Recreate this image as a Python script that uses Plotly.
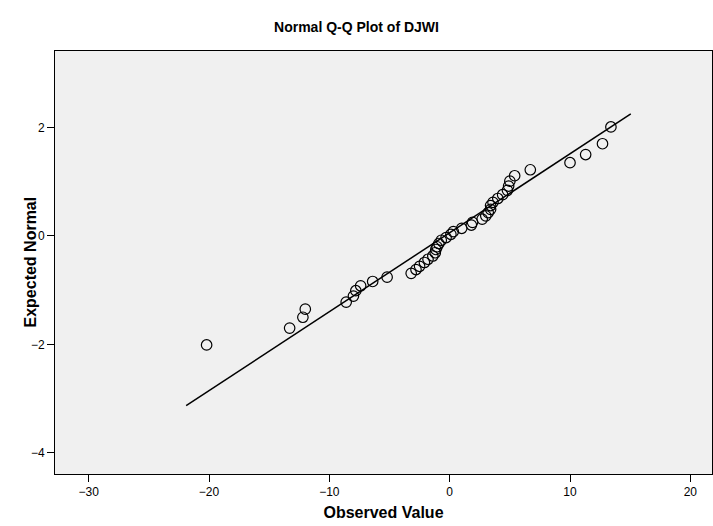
import plotly.graph_objects as go

observed = [-20.2, -13.3, -12.2, -12.0, -8.6, -8.0, -7.8, -7.4, -6.4, -5.2,
            -3.2, -2.8, -2.5, -2.1, -1.8, -1.4, -1.2, -1.15, -1.05, -0.9,
            -0.7, -0.3, 0.1, 0.3, 1.0, 1.8, 1.9, 2.7, 3.0, 3.2,
            3.4, 3.4, 3.6, 4.0, 4.4, 4.8, 4.9, 5.0, 5.4, 6.7,
            10.0, 11.3, 12.7, 13.4]
# Expected normal values
expected = [-2.01, -1.70, -1.50, -1.35, -1.22, -1.11, -1.01, -0.92, -0.84, -0.76,
            -0.69, -0.62, -0.56, -0.49, -0.43, -0.37, -0.31, -0.25, -0.20, -0.14,
            -0.08, -0.03, 0.03, 0.08, 0.14, 0.20, 0.25, 0.31, 0.37, 0.43,
            0.49, 0.56, 0.62, 0.69, 0.76, 0.84, 0.92, 1.01, 1.11, 1.22,
            1.35, 1.50, 1.70, 2.01]
# Reference line endpoints
line_x = [-21.9, 15.05]
line_y = [-3.13, 2.25]

x_ticks = [-30, -20, -10, 0, 10, 20]
y_ticks = [-4, -2, 0, 2]

fig = go.Figure()
fig.add_trace(go.Scatter(x=line_x, y=line_y, mode="lines",
                         line=dict(color="black", width=1.5), hoverinfo="skip"))
fig.add_trace(go.Scatter(x=observed, y=expected, mode="markers",
                         marker=dict(symbol="circle-open", size=10.5,
                                     color="black", line=dict(width=1.2))))

font = "Liberation Sans, Arial, sans-serif"
W, H = 713, 526
L, R, T, B = 55, 1, 51, 52
fig.update_layout(
    width=W, height=H,
    margin=dict(l=L, r=R, t=T, b=B),
    paper_bgcolor="white", plot_bgcolor="#f0f0f0",
    showlegend=False,
    font=dict(family=font, size=12, color="black"),
    title=dict(text="<b>Normal Q-Q Plot of DJWI</b>", x=0.5, xanchor="center",
               y=1 - 27 / H, yanchor="middle", font=dict(size=14, family=font)),
    annotations=[dict(text="<b>Expected Normal</b>", textangle=-90,
                      xref="paper", yref="paper",
                      x=(30 - L) / (W - L - R), y=0.5,
                      xanchor="center", yanchor="middle", showarrow=False,
                      font=dict(size=16, family=font))],
)
fig.update_xaxes(range=[-32.8, 21.8], tickvals=x_ticks, ticks="outside", ticklen=7,
                 tickcolor="black", showgrid=False, zeroline=False,
                 showline=True, linecolor="black", linewidth=1, mirror=True,
                 title=dict(text="<b>Observed Value</b>", font=dict(size=16, family=font), standoff=8),
                 tickfont=dict(size=12))
fig.update_yaxes(range=[-4.39, 3.41], tickvals=y_ticks, ticks="outside", ticklen=7,
                 tickcolor="black", showgrid=False, zeroline=False,
                 showline=True, linecolor="black", linewidth=1, mirror=True,
                 tickfont=dict(size=12))

fig.write_html("out.html", config={"displayModeBar": False},
               post_script="document.body.style.margin='0';")
